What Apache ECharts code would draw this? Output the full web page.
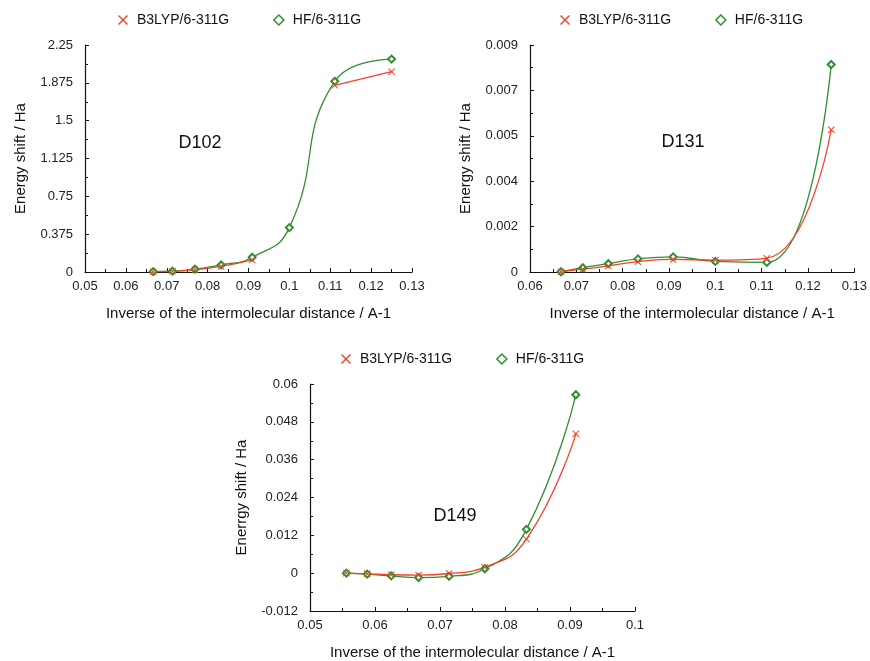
<!DOCTYPE html>
<html>
<head>
<meta charset="utf-8">
<script src="https://cdn.jsdelivr.net/npm/echarts@6/dist/echarts.min.js"></script>
<style>
  html, body { margin: 0; padding: 0; background: #fff; }
  #main { width: 870px; height: 661px; }
</style>
</head>
<body>
<div id="main"></div>
<script>
// inverse intermolecular distance (1/A)
var xD102 = [0.0667, 0.0714, 0.0769, 0.0833, 0.0909, 0.1, 0.1111, 0.125];
var hfD102 = [0.004, 0.008, 0.028, 0.07, 0.146, 0.44, 1.89, 2.11];
var b3D102 = [0.003, 0.007, 0.022, 0.055, 0.12, null, 1.85, 1.985];

var xD131 = [0.0667, 0.0714, 0.0769, 0.0833, 0.0909, 0.1, 0.1111, 0.125];
var hfD131 = [0.00001, 0.00017, 0.00033, 0.00052, 0.0006, 0.00042, 0.00038, 0.00823];
var b3D131 = [0.00001, 0.00011, 0.00024, 0.00041, 0.0005, 0.00047, 0.00055, 0.00564];

var xD149 = [0.0556, 0.0588, 0.0625, 0.0667, 0.0714, 0.0769, 0.0833, 0.0909];
var hfD149 = [0, -0.0003, -0.00085, -0.0014, -0.001, 0.0014, 0.0139, 0.0566];
var b3D149 = [0, -0.0002, -0.0005, -0.0006, -0.0001, 0.0019, 0.0108, 0.0442];

var RED = '#f5412a';
var GREEN = '#2f8f2f';
var FONT = 'Liberation Sans';
var CROSS = 'path://M1,0L5,4L9,0L10,1L6,5L10,9L9,10L5,6L1,10L0,9L4,5L0,1Z';

function pairs(xs, ys) {
    return xs.map(function (x, i) { return [x, ys[i] === null ? '-' : ys[i]]; });
}

function xAxis(idx, min, max) {
    return {
        gridIndex: idx, type: 'value', min: min, max: max, interval: 0.01,
        name: 'Inverse of the intermolecular distance / A-1',
        nameLocation: 'middle', nameGap: 34,
        nameTextStyle: { fontFamily: FONT, fontSize: 15, color: '#111' },
        axisLine: { onZero: false, lineStyle: { color: '#111', width: 1.2 } },
        axisTick: { inside: true, length: 4, lineStyle: { color: '#111' } },
        minorTick: { show: true, splitNumber: 2, length: 3, lineStyle: { color: '#111' } },
        axisLabel: { fontFamily: FONT, fontSize: 13, color: '#222', margin: 8 },
        splitLine: { show: false }
    };
}

function yAxis(idx, min, max, interval, name, gap, fmt) {
    return {
        gridIndex: idx, type: 'value', min: min, max: max, interval: interval,
        name: name, nameLocation: 'middle', nameGap: gap,
        nameTextStyle: { fontFamily: FONT, fontSize: 15, color: '#111' },
        axisLine: { show: true, onZero: false, lineStyle: { color: '#111', width: 1.2 } },
        axisTick: { show: true, inside: true, length: 4, lineStyle: { color: '#111' } },
        minorTick: { show: true, splitNumber: 2, length: 3, lineStyle: { color: '#111' } },
        axisLabel: { fontFamily: FONT, fontSize: 13, color: '#222', margin: 12, formatter: fmt },
        splitLine: { show: false }
    };
}

function hfSeries(idx, xs, ys) {
    return {
        name: 'HF/6-311G', type: 'line', xAxisIndex: idx, yAxisIndex: idx,
        data: pairs(xs, ys), smooth: true,
        symbol: 'emptyDiamond', symbolSize: 7,
        itemStyle: { color: GREEN, borderWidth: 1.5 },
        lineStyle: { color: GREEN, width: 1.3 }
    };
}

function b3Series(idx, xs, ys) {
    return {
        name: 'B3LYP/6-311G', type: 'line', xAxisIndex: idx, yAxisIndex: idx,
        data: pairs(xs, ys), smooth: true, connectNulls: false,
        symbol: CROSS, symbolSize: 7,
        itemStyle: { color: RED },
        lineStyle: { color: RED, width: 1.3 }
    };
}

function legend(left, top) {
    return {
        left: left, top: top, itemWidth: 10, itemHeight: 10, itemGap: 44,
        textStyle: { fontFamily: FONT, fontSize: 14, color: '#111', padding: [0, 0, 0, 4] },
        data: [
            { name: 'B3LYP/6-311G', icon: CROSS, itemStyle: { color: RED } },
            { name: 'HF/6-311G', icon: 'diamond', itemStyle: { color: '#fff', borderColor: GREEN, borderWidth: 1.5 } }
        ],
        selectedMode: false
    };
}

function label(text, x, y) {
    return {
        type: 'text', x: x, y: y,
        style: { text: text, fontFamily: FONT, fontSize: 18, fill: '#111', align: 'center', verticalAlign: 'middle' }
    };
}

var myChart = echarts.init(document.getElementById('main'));
var option = {
    backgroundColor: '#fff',
    animation: false,
    legend: [legend(113, 8), legend(555, 8), legend(336, 347)],
    grid: [
        { left: 85, top: 45, width: 327, height: 227 },
        { left: 530, top: 45, width: 326, height: 227 },
        { left: 310, top: 384, width: 325, height: 228 }
    ],
    xAxis: [xAxis(0, 0.05, 0.13), xAxis(1, 0.06, 0.13), xAxis(2, 0.05, 0.1)],
    yAxis: [
        yAxis(0, 0, 2.25, 0.375, 'Energy shift / Ha', 57),
        yAxis(1, 0, 0.009, 0.0018, 'Energy shift / Ha', 57, function (v) {
            return v === 0 ? '0' : v.toFixed(3);
        }),
        yAxis(2, -0.012, 0.06, 0.012, 'Enerrgy shift / Ha', 61)
    ],
    series: [
        hfSeries(0, xD102, hfD102), b3Series(0, xD102, b3D102),
        hfSeries(1, xD131, hfD131), b3Series(1, xD131, b3D131),
        hfSeries(2, xD149, hfD149), b3Series(2, xD149, b3D149)
    ],
    graphic: [label('D102', 200, 143), label('D131', 683, 142), label('D149', 455, 516)]
};
myChart.setOption(option);
</script>
</body>
</html>
